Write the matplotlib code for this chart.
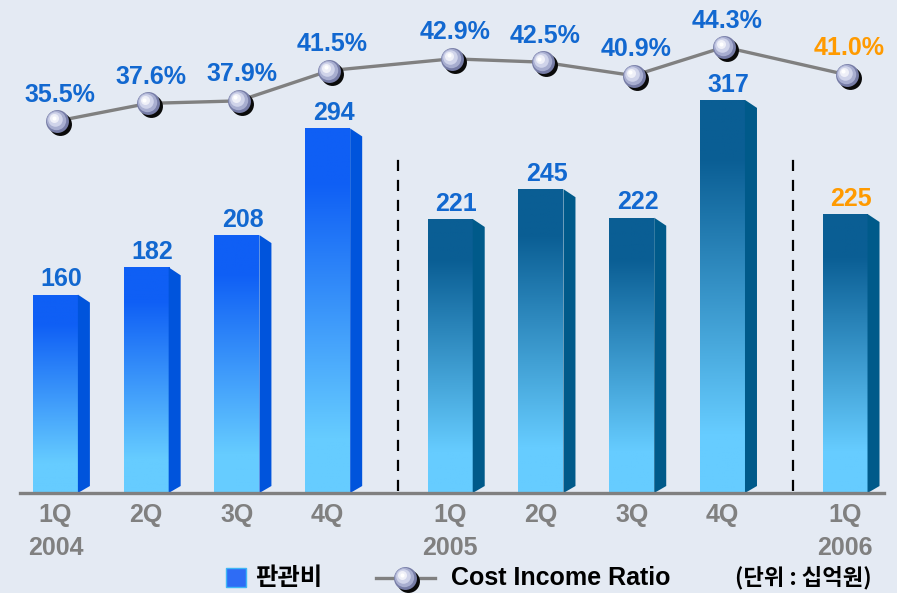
import matplotlib
matplotlib.use('Agg')
import matplotlib.pyplot as plt
import numpy as np
from matplotlib.colors import LinearSegmentedColormap
from matplotlib.patches import Polygon, Rectangle
from matplotlib.lines import Line2D
import matplotlib.transforms as mtrans

# ---------------- data ----------------
quarters = ['1Q', '2Q', '3Q', '4Q', '1Q', '2Q', '3Q', '4Q', '1Q']
years = ['2004', '', '', '', '2005', '', '', '', '2006']
group = [0, 0, 0, 0, 1, 1, 1, 1, 2]
expense = [160, 182, 208, 294, 221, 245, 222, 317, 225]          # 판관비 (십억원)
ratio = [35.5, 37.6, 37.9, 41.5, 42.9, 42.5, 40.9, 44.3, 41.0]   # Cost Income Ratio (%)
is_latest = [False, False, False, False, False, False, False, False, True]

# ---------------- style ----------------
BG = '#e4eaf3'
LABEL_BLUE = '#1268d0'
LABEL_ORANGE = '#ff9a00'
GRAY = '#808080'
CYAN = '#66ccff'
TOP_2004 = '#0f5ff5'
SIDE_2004 = '#0054dc'
TOP_LATER = '#0a5e94'
SIDE_LATER = '#005a8a'
LATIN = 'Liberation Sans'
KR = ['Noto Sans CJK KR', 'DejaVu Sans']

W, H = 897, 593
PXX = 90.76     # px per category unit
X0 = 55.4       # px of first category
PXY = 1.24      # px per data unit
GAP = 0.35

pos = np.arange(len(quarters)) + GAP * np.array(group)

fig = plt.figure(figsize=(W / 100, H / 100), dpi=100, facecolor=BG)
ax = fig.add_axes([20 / W, 100 / H, 864 / W, 483 / H])
ax.set_facecolor('none')

FW = 45 / PXX
SW = 12 / PXX
DROP = 8 / PXY
RISE = 7 / PXY

grad = np.linspace(0, 1, 256).reshape(-1, 1)
for p, v, g in zip(pos, expense, group):
    top = TOP_2004 if g == 0 else TOP_LATER
    side = SIDE_2004 if g == 0 else SIDE_LATER
    cmap = LinearSegmentedColormap.from_list('g', [(0, CYAN), (0.15, CYAN), (0.85, top), (1, top)])
    rect = ax.bar(p, v, width=FW, color='none', linewidth=0, zorder=2)[0]
    im = ax.imshow(grad, extent=[p - FW / 2, p + FW / 2, 0, v], origin='lower',
                   aspect='auto', cmap=cmap, zorder=2)
    im.set_clip_path(rect)
    x1 = p + FW / 2
    ax.add_patch(Polygon([(x1, v), (x1 + SW, v - DROP), (x1 + SW, RISE), (x1, 0)],
                         closed=True, facecolor=side, edgecolor='none', zorder=2))
    ax.annotate(str(v), (p + SW / 2, v), xytext=(0, 6), textcoords='offset points',
                ha='center', va='baseline', fontsize=18, fontweight='bold', family=LATIN,
                color=LABEL_ORANGE if g == 2 else LABEL_BLUE, zorder=5)

# dashed separators between years
for i in range(1, len(group)):
    if group[i] != group[i - 1]:
        ax.vlines(pos[i] - 0.57, 2, 272, colors='black', linewidth=1.6,
                  linestyles=(0, (5, 4)), zorder=3)

ax.set_xlim((20 - X0) / PXX, (884 - X0) / PXX)
ax.set_ylim(0, 483 / PXY)

for s in ['top', 'left', 'right']:
    ax.spines[s].set_visible(False)
ax.spines['bottom'].set_color(GRAY)
ax.spines['bottom'].set_linewidth(2.4)
ax.set_yticks([])
ax.set_xticks(pos)
ax.set_xticklabels([q + '\n' + y for q, y in zip(quarters, years)],
                   fontsize=18, fontweight='bold', color=GRAY, family=LATIN,
                   linespacing=1.5)
ax.tick_params(axis='x', length=0, pad=7)

# ---------------- ratio line ----------------
ax2 = ax.twinx()
ax2.set_ylim(-8.7, 48.7)
ax2.set_facecolor('none')
for s in ax2.spines.values():
    s.set_visible(False)
ax2.set_yticks([])

SPHERE = [(3, -3, 16.5, '#0a0a0a'), (0, 0, 16.5, '#767ca6'), (-1, 1, 14, '#a8aed0'),
          (-2, 2, 10.5, '#d0d4ea'), (-3, 3, 6.5, '#eff0f8'), (-3.5, 3.5, 3, '#ffffff')]

xr = pos + 0.02
ax2.plot(xr, ratio, color=GRAY, linewidth=2.4, zorder=3)
for dx, dy, ms, c in SPHERE:
    tr = mtrans.offset_copy(ax2.transData, fig=fig, x=dx, y=dy, units='dots')
    ax2.plot(xr, ratio, 'o', ms=ms, mfc=c, mec='none', transform=tr, zorder=4)

for x, r, latest in zip(xr, ratio, is_latest):
    ax2.annotate(f'{r:.1f}%', (x, r), xytext=(2, 14), textcoords='offset points',
                 ha='center', va='baseline', fontsize=18, fontweight='bold', family=LATIN,
                 color=LABEL_ORANGE if latest else LABEL_BLUE, zorder=5)

# ---------------- legend ----------------
ly = (593 - 578) / H
fig.patches.append(Rectangle((226 / W, (593 - 587) / H), 20 / W, 19 / H,
                             transform=fig.transFigure, facecolor='#2e6cf5',
                             edgecolor='#3fb6f5', linewidth=1))
fig.text(255 / W, ly, '판관비', family=KR, fontweight='bold', fontsize=17.5,
         va='center', ha='left', color='black')
fig.lines.append(Line2D([376 / W, 435 / W], [ly, ly], transform=fig.transFigure,
                        color=GRAY, linewidth=2.4))
lx = 405 / W
for dx, dy, ms, c in SPHERE:
    fig.lines.append(Line2D([lx + dx / W], [ly + dy / H], transform=fig.transFigure,
                            marker='o', ms=ms, mfc=c, mec='none', linestyle='none'))
fig.text(451 / W, ly, 'Cost Income Ratio', family=LATIN, fontweight='bold', fontsize=18,
         va='center', ha='left', color='black')
fig.text(735 / W, ly, '(단위 : 십억원)', family=KR, fontweight='bold', fontsize=16,
         va='center', ha='left', color='black')

fig.savefig('out.png', dpi=100, facecolor=BG)
